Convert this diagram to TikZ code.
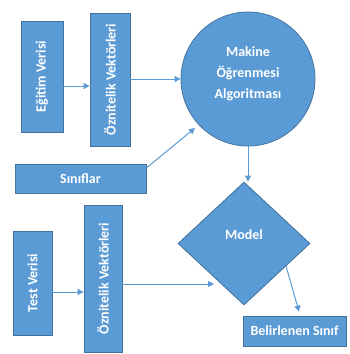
\documentclass[tikz,border=0pt]{standalone}
\usepackage{fontspec}
\setmainfont{Carlito}
\usepackage{graphicx}
\usetikzlibrary{shapes.geometric,arrows.meta,calc}
\definecolor{boxfill}{HTML}{5B9BD5}
\definecolor{boxline}{HTML}{41719C}
\definecolor{arrcol}{HTML}{5B9BD5}
\tikzset{
  blk/.style={draw=boxline, fill=boxfill, line width=0.8pt, text=white, inner sep=0pt,
    font=\fontsize{14}{17}\selectfont\bfseries, align=center},
  boxr/.style={blk, rectangle},
  arr/.style={draw=arrcol, line width=1pt, -{Triangle[length=6pt,width=6pt]}}
}
\begin{document}
\begin{tikzpicture}[x=1pt,y=-1pt]
\useasboundingbox (0,0) rectangle (350,354);
\node[boxr, minimum width=42pt, minimum height=111pt] (egitim) at (42,76.5) {\rotatebox{90}{Eğitim Verisi}};
\node[boxr, minimum width=40pt, minimum height=133pt] (oz1) at (110,79.5) {\rotatebox{90}{Öznitelik Vektörleri}};
\node[blk, circle, minimum size=134pt] (algo) at (248,79) {Makine\\[4pt]Öğrenmesi\\[4pt]Algoritması\\[-4pt]\mbox{}};
\node[boxr, minimum width=131pt, minimum height=29pt] (sin) at (80.5,178.5) {Sınıflar};
\node[boxr, minimum width=39pt, minimum height=104pt] (test) at (32.5,283) {\rotatebox{90}{Test Verisi}};
\node[boxr, minimum width=38pt, minimum height=147pt] (oz2) at (103,278.5) {\rotatebox{90}{Öznitelik Vektörleri}};
\node[blk, diamond, minimum width=132pt, minimum height=123pt] (model) at (244,243.5) {\smash{\raisebox{4pt}{Model}}};
\node[boxr, minimum width=103pt, minimum height=30pt] (bel) at (294.5,331) {Belirlenen Sınıf};
\coordinate (min) at (214,284);
\coordinate (mout) at (286,266);
\draw[arr] (egitim.east |- 0,86) -- (oz1.west |- 0,86);
\draw[arr] (oz1.east |- algo.west) -- (algo.west);
\draw[arr] (sin.east |- 0,168) -- (195,128);
\draw[arr] (algo.south) -- (algo.south |- model.north);
\draw[arr] (test.east |- 0,292) -- (oz2.west |- 0,292);
\draw[arr] (oz2.east |- min) -- (min);
\draw[arr] (mout) -- ($(bel.north)+(4.5,-4)$);
\end{tikzpicture}
\end{document}
